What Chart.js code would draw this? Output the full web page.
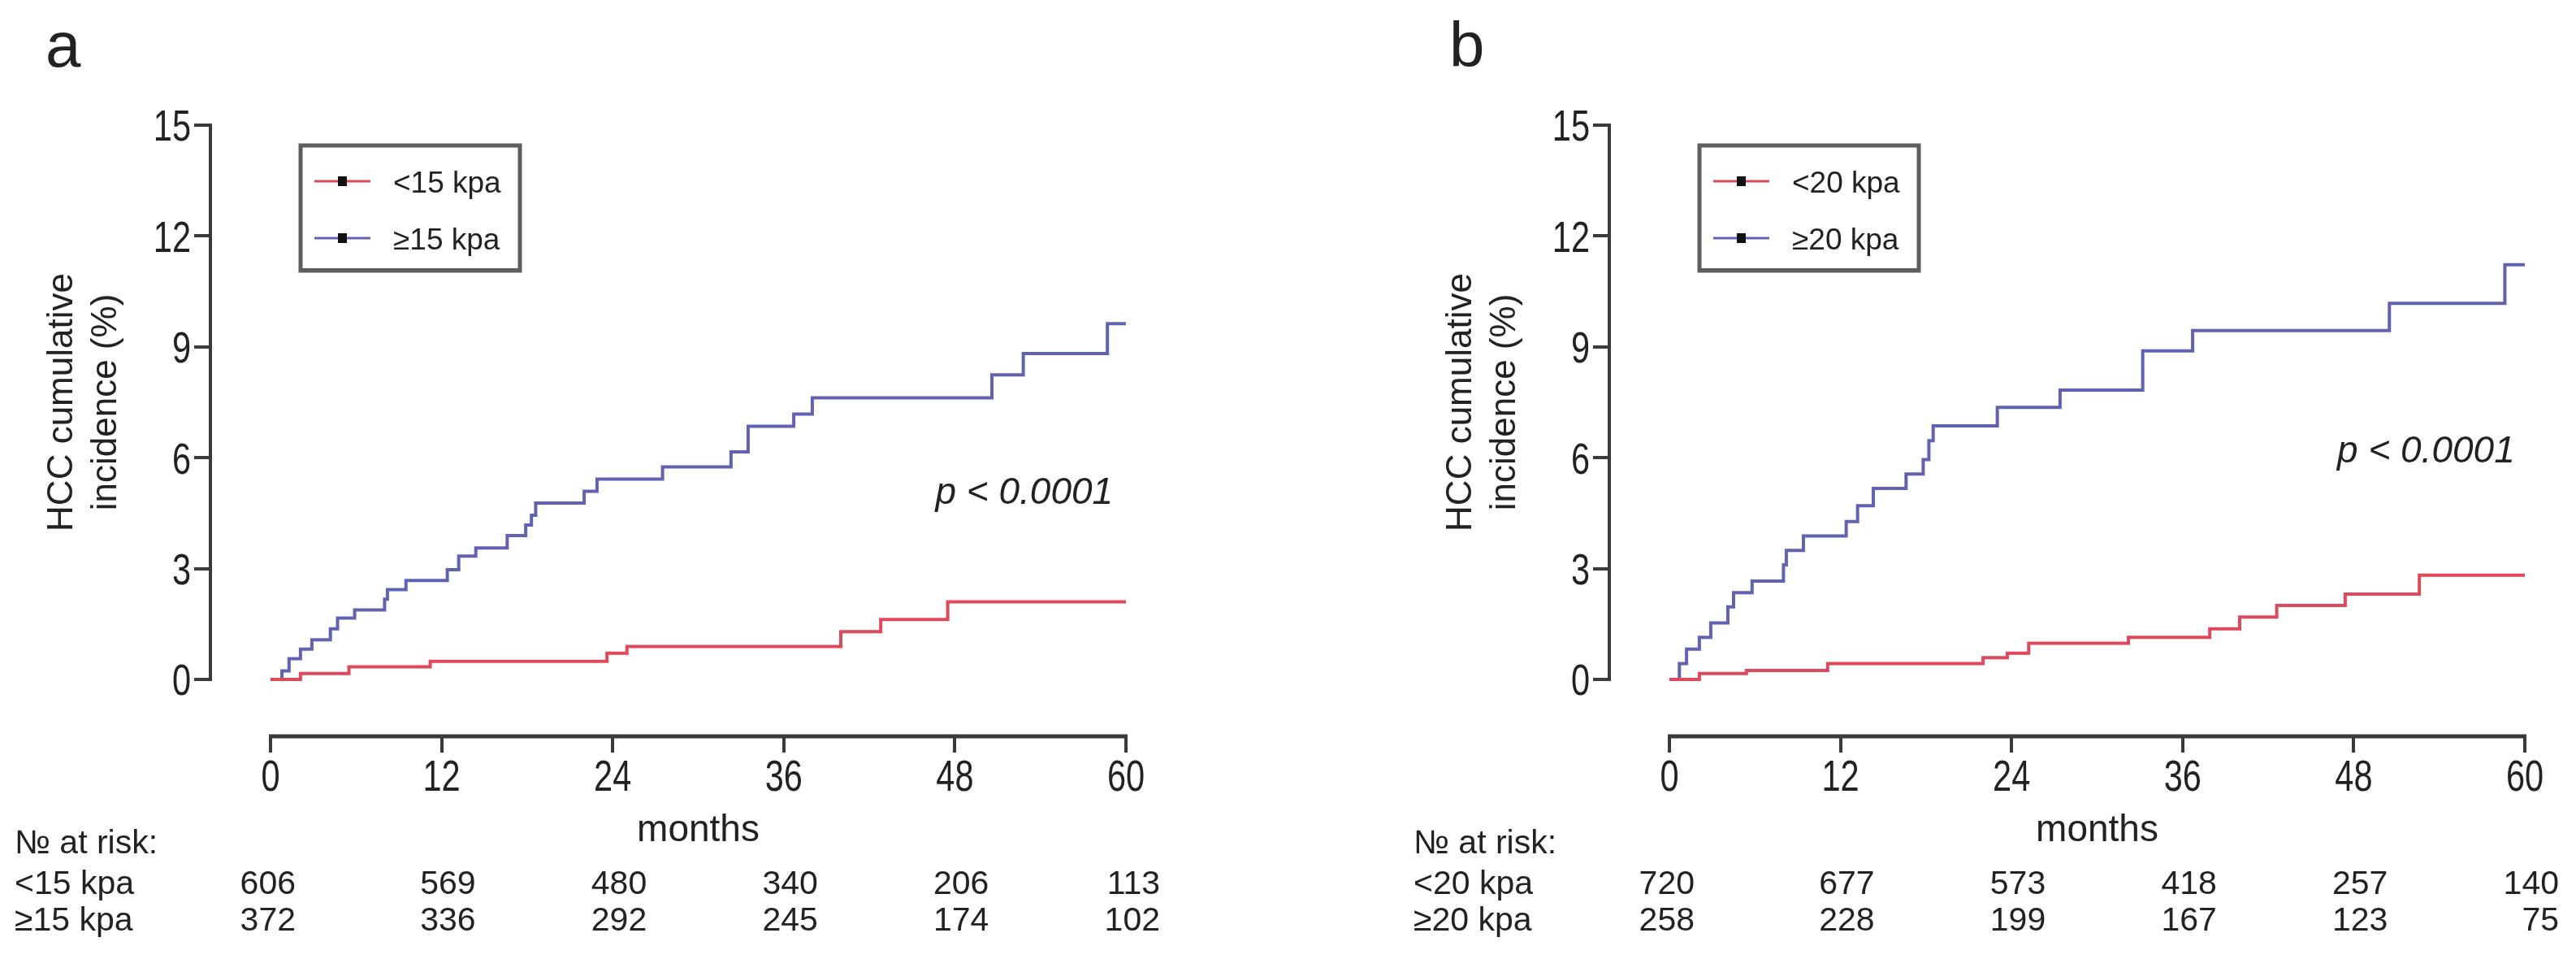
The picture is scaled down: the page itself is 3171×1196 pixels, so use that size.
<!DOCTYPE html>
<html>
<head>
<meta charset="utf-8">
<script src="https://cdn.jsdelivr.net/npm/chart.js@4.4.1/dist/chart.umd.min.js"></script>
<style>
  html, body { margin: 0; padding: 0; background: #fff; }
  #wrap { position: relative; width: 3171px; height: 1196px; overflow: hidden; }
  canvas { position: absolute; top: 0; }
</style>
</head>
<body>
<div id="wrap">
  <canvas id="panelA" width="1449" height="1196" style="left:0px"></canvas>
  <canvas id="panelB" width="1449" height="1196" style="left:1722px"></canvas>
</div>
<script>
// ---- data ----
const months = [0, 12, 24, 36, 48, 60];
const yTicks = [0, 3, 6, 9, 12, 15];

// panel a: liver stiffness cut-off 15 kPa
const aGroups = ["<15 kpa", "\u226515 kpa"];
const aLowT = [0, 2.1, 5.5, 11.2, 23.6, 25.0, 40.0, 42.8, 47.5, 60];
const aLowV = [0, 0.16, 0.34, 0.49, 0.71, 0.89, 1.29, 1.62, 2.1, 2.1];
const aHighT = [0, 0.8, 1.3, 2.1, 2.9, 4.2, 4.7, 5.9, 8.0, 8.2, 9.5, 12.4, 13.2, 14.4, 16.6, 17.9, 18.3, 18.6, 22.0, 22.9, 27.5, 32.3, 33.5, 36.7, 38.0, 50.6, 52.8, 58.7, 60];
const aHighV = [0, 0.23, 0.56, 0.82, 1.07, 1.37, 1.66, 1.88, 2.17, 2.43, 2.68, 2.97, 3.34, 3.56, 3.89, 4.18, 4.44, 4.77, 5.09, 5.42, 5.75, 6.16, 6.85, 7.18, 7.62, 8.24, 8.82, 9.63, 9.63];
const aRiskLow = [606, 569, 480, 340, 206, 113];
const aRiskHigh = [372, 336, 292, 245, 174, 102];

// panel b: cut-off 20 kPa
const bGroups = ["<20 kpa", "\u226520 kpa"];
const bLowT = [0, 2.1, 5.4, 11.1, 22.0, 23.7, 25.2, 32.2, 37.9, 40.0, 42.6, 47.4, 52.6, 60];
const bLowV = [0, 0.16, 0.24, 0.43, 0.59, 0.71, 0.98, 1.14, 1.37, 1.69, 2.0, 2.31, 2.82, 2.82];
const bHighT = [0, 0.7, 1.2, 2.1, 2.9, 4.1, 4.5, 5.8, 8.0, 8.2, 9.4, 12.4, 13.2, 14.3, 16.6, 17.8, 18.2, 18.5, 23.0, 27.4, 33.2, 36.7, 50.5, 58.6, 60];
const bHighV = [0, 0.43, 0.82, 1.14, 1.53, 1.96, 2.35, 2.66, 3.1, 3.49, 3.88, 4.27, 4.7, 5.17, 5.56, 5.95, 6.46, 6.86, 7.36, 7.83, 8.89, 9.44, 10.18, 11.22, 11.22];
const bRiskLow = [720, 677, 573, 418, 257, 140];
const bRiskHigh = [258, 228, 199, 167, 123, 75];

// ---- styling ----
const RED = "#de4a5c";
const BLUE = "#6262b2";
const AXIS = "#3a3a3a";
const TEXT = "#222";
const FONT = '"Liberation Sans", Arial, sans-serif';
const TICK_SIZE = 54;
const TICK_SQUEEZE = 0.77; // tick labels in the figure are condensed

function toXY(ts, vs) {
  return ts.map((t, i) => ({ x: t, y: vs[i] }));
}

function squeezedText(ctx, txt, x, y, align) {
  ctx.save();
  ctx.translate(x, y);
  ctx.scale(TICK_SQUEEZE, 1);
  ctx.textAlign = align;
  ctx.fillText(txt, 0, 0);
  ctx.restore();
}

// draws the detached axes, tick labels, legend box, labels and the at-risk table
const kmDecor = {
  id: "kmDecor",
  afterDraw(chart, args, o) {
    const { ctx, chartArea: ca, scales: { x, y } } = chart;
    ctx.save();

    // axis lines only across the data range (detached axes)
    ctx.strokeStyle = AXIS;
    ctx.lineWidth = 4;
    ctx.beginPath();
    ctx.moveTo(ca.left, y.getPixelForValue(yTicks[0]) + 2);
    ctx.lineTo(ca.left, y.getPixelForValue(yTicks[yTicks.length - 1]) - 2);
    ctx.stroke();
    ctx.lineWidth = 5;
    ctx.beginPath();
    ctx.moveTo(x.getPixelForValue(months[0]) - 2, ca.bottom);
    ctx.lineTo(x.getPixelForValue(months[months.length - 1]) + 2, ca.bottom);
    ctx.stroke();

    ctx.fillStyle = TEXT;
    ctx.textBaseline = "alphabetic";

    // tick labels
    ctx.font = TICK_SIZE + "px " + FONT;
    yTicks.forEach(v => {
      squeezedText(ctx, String(v), ca.left - 24, y.getPixelForValue(v) + TICK_SIZE * 0.36, "right");
    });
    months.forEach(m => {
      squeezedText(ctx, String(m), x.getPixelForValue(m), 973, "center");
    });

    // panel letter
    ctx.font = "78px " + FONT;
    ctx.textAlign = "left";
    ctx.fillText(o.letter, o.letterX, 82);

    // y title, two lines
    const midY = (y.getPixelForValue(yTicks[0]) + y.getPixelForValue(yTicks[yTicks.length - 1])) / 2;
    ctx.font = "44px " + FONT;
    ctx.textAlign = "center";
    ctx.textBaseline = "middle";
    [["HCC cumulative", 77], ["incidence (%)", 131]].forEach(([txt, cx]) => {
      ctx.save();
      ctx.translate(cx, midY);
      ctx.rotate(-Math.PI / 2);
      ctx.fillText(txt, 0, 0);
      ctx.restore();
    });
    ctx.textBaseline = "alphabetic";

    // legend box
    ctx.strokeStyle = "#5e5e5e";
    ctx.lineWidth = 5;
    ctx.strokeRect(370, 179, 270, 154);
    ctx.fillStyle = "#5e5e5e";
    ctx.fillRect(368, 330, 274, 5);
    ctx.font = "37px " + FONT;
    ctx.textAlign = "left";
    [[o.groups[0], RED, 223], [o.groups[1], BLUE, 293]].forEach(([txt, col, ly]) => {
      ctx.strokeStyle = col;
      ctx.lineWidth = 3;
      ctx.beginPath();
      ctx.moveTo(387, ly);
      ctx.lineTo(456, ly);
      ctx.stroke();
      ctx.fillStyle = "#111";
      ctx.fillRect(416, ly - 6, 11, 12);
      ctx.fillStyle = TEXT;
      ctx.fillText(txt, 484, ly + 14);
    });

    // p value
    ctx.font = "italic 46px " + FONT;
    ctx.textAlign = "right";
    ctx.fillText("p < 0.0001", x.getPixelForValue(o.pT), y.getPixelForValue(o.pV));

    // x title
    const x0 = x.getPixelForValue(months[0]);
    const x1 = x.getPixelForValue(months[months.length - 1]);
    ctx.font = "46px " + FONT;
    ctx.textAlign = "center";
    ctx.fillText("months", (x0 + x1) / 2, 1035);

    // number at risk table
    ctx.font = "41px " + FONT;
    ctx.textAlign = "left";
    ctx.fillText("\u2116 at risk:", 18, 1050);
    ctx.fillText(o.groups[0], 18, 1100);
    ctx.fillText(o.groups[1], 18, 1145);
    ctx.textAlign = "right";
    months.forEach((m, i) => {
      const px = x.getPixelForValue(m) + (i === 0 ? 31 : 42);
      ctx.fillText(String(o.riskLow[i]), px, 1100);
      ctx.fillText(String(o.riskHigh[i]), px, 1145);
    });

    ctx.restore();
  }
};

function makePanel(id, p) {
  const line = (label, ts, vs, col) => ({
    label, data: toXY(ts, vs), borderColor: col, borderWidth: 4,
    stepped: true, pointRadius: 0, fill: false, tension: 0
  });
  const grid = { drawOnChartArea: false, drawTicks: true, tickLength: 20, color: AXIS, lineWidth: 4 };
  return new Chart(document.getElementById(id), {
    type: "line",
    data: {
      datasets: [
        line(p.groups[0], p.lowT, p.lowV, RED),
        line(p.groups[1], p.highT, p.highV, BLUE)
      ]
    },
    options: {
      responsive: false,
      animation: false,
      devicePixelRatio: 1,
      layout: { padding: { left: 0, right: 63, top: 154, bottom: 0 } },
      plugins: {
        legend: { display: false },
        tooltip: { enabled: false },
        kmDecor: p
      },
      scales: {
        x: {
          type: "linear", min: -4.217, max: 60,
          afterBuildTicks: s => { s.ticks = months.map(v => ({ value: v })); },
          afterFit: s => { s.height = 290; },
          grid, border: { display: false },
          ticks: { display: false, autoSkip: false }
        },
        y: {
          type: "linear", min: -1.54, max: 15,
          afterBuildTicks: s => { s.ticks = yTicks.map(v => ({ value: v })); },
          afterFit: s => { s.width = 259; },
          grid, border: { display: false },
          ticks: { display: false }
        }
      }
    },
    plugins: [kmDecor]
  });
}

makePanel("panelA", {
  letter: "a", letterX: 56, groups: aGroups,
  lowT: aLowT, lowV: aLowV, highT: aHighT, highV: aHighV,
  riskLow: aRiskLow, riskHigh: aRiskHigh, pT: 59.1, pV: 4.76
});
makePanel("panelB", {
  letter: "b", letterX: 62, groups: bGroups,
  lowT: bLowT, lowV: bLowV, highT: bHighT, highV: bHighV,
  riskLow: bRiskLow, riskHigh: bRiskHigh, pT: 59.3, pV: 5.88
});
</script>
</body>
</html>
